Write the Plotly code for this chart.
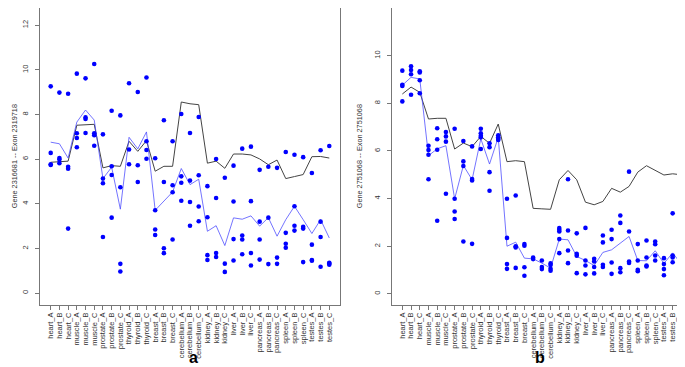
import plotly.graph_objects as go

categories = ["heart_A", "heart_B", "heart_C", "muscle_A", "muscle_B", "muscle_C",
              "prostate_A", "prostate_B", "prostate_C", "thyroid_A", "thyroid_B", "thyroid_C",
              "breast_A", "breast_B", "breast_C", "cerebellum_A", "cerebellum_B", "cerebellum_C",
              "kidney_A", "kidney_B", "kidney_C", "liver_A", "liver_B", "liver_C",
              "pancreas_A", "pancreas_B", "pancreas_C", "spleen_A", "spleen_B", "spleen_C",
              "testes_A", "testes_B", "testes_C"]

# Panel a: Gene 2316681 -- Exon 2319718
a_points = [
    [9.26, 6.28, 5.77, 5.74], [8.98, 6.05, 5.98, 5.82], [8.93, 5.66, 5.57, 2.89],
    [9.83, 7.16, 6.95, 6.53], [9.62, 7.87, 7.80, 7.17], [10.26, 7.16, 7.07, 6.60],
    [7.11, 5.13, 4.92, 2.51], [8.17, 5.68, 5.29, 3.38], [7.96, 4.74, 1.31, 0.97],
    [9.40, 6.43, 5.77], [9.01, 5.73, 4.98], [9.66, 6.80, 6.41, 6.02],
    [6.04, 3.71, 2.85, 2.60], [7.74, 4.98, 2.01, 1.79], [6.80, 4.83, 4.52, 2.40],
    [8.02, 5.23, 4.94, 4.14], [7.17, 5.04, 4.08, 3.02], [7.89, 5.28, 3.88, 3.22],
    [4.79, 3.40, 1.70, 1.48], [6.01, 4.26, 1.80, 1.62], [5.17, 1.32, 0.95],
    [5.71, 4.10, 2.42, 1.46], [6.47, 2.58, 2.40, 1.74], [6.56, 4.12, 1.80, 1.24],
    [5.52, 3.20, 2.40, 1.50], [5.66, 3.38, 1.30], [5.61, 1.59, 1.31],
    [6.32, 2.70, 2.21, 2.03], [6.20, 3.89, 3.02, 2.80], [6.09, 2.97, 2.89, 1.39],
    [5.38, 2.17, 1.48, 1.45], [6.40, 3.20, 2.51, 1.18], [6.59, 1.36, 1.33, 1.27],
]
a_gene = [5.86, 5.87, 5.91, 7.52, 7.53, 7.56, 5.61, 5.71, 5.68, 6.80, 6.35, 6.83,
          5.46, 5.68, 5.68, 8.56, 8.48, 8.44, 5.82, 5.91, 5.59, 6.23, 6.23, 6.19,
          6.01, 5.75, 5.96, 5.13, 5.22, 5.31, 6.11, 6.12, 6.05]
a_exon = [6.76, 6.69, 6.05, 7.66, 8.20, 7.75, 5.13, 5.64, 3.76, 6.98, 6.46, 7.22,
          3.71, 4.14, 4.53, 5.58, 4.86, 5.10, 2.77, 3.02, 2.13, 3.37, 3.31, 3.46,
          3.00, 3.38, 2.55, 3.29, 3.89, 3.29, 2.67, 3.29, 2.47]

# Panel b: Gene 2751068 -- Exon 2751068
b_points = [
    [9.37, 8.78, 8.73, 8.08], [9.55, 9.40, 9.22, 8.36], [9.34, 9.29, 8.97, 8.42],
    [6.22, 6.04, 5.84, 4.81], [6.95, 6.49, 6.05, 3.07], [6.79, 6.61, 6.39, 4.20],
    [6.93, 3.99, 3.46, 3.14], [6.42, 5.56, 5.37, 2.20], [6.19, 4.82, 4.76, 2.10],
    [6.93, 6.74, 6.64, 6.57, 6.08], [6.32, 6.16, 5.11, 4.33], [6.66, 6.57, 6.51, 6.46],
    [3.99, 2.35, 1.25, 1.05], [4.13, 2.00, 1.95, 1.09], [2.09, 2.02, 1.12, 0.76],
    [1.53, 1.46], [1.40, 1.13, 1.04], [1.28, 1.21, 1.05, 0.97],
    [2.76, 2.69, 2.62, 2.30, 1.71], [4.81, 2.66, 1.82, 1.29], [2.54, 1.68, 1.60, 0.87],
    [2.77, 1.40, 1.19, 0.82], [1.47, 1.36, 1.13, 0.86], [2.45, 2.16, 1.22, 1.13],
    [2.69, 2.30, 1.32, 0.84], [3.29, 2.98, 1.08, 0.91], [5.13, 2.62, 1.36, 1.30],
    [2.09, 1.40, 1.01, 0.95], [2.24, 1.53, 1.19, 1.15], [2.20, 2.08, 1.61, 1.40],
    [1.50, 1.25, 1.04, 0.78], [3.38, 1.61, 1.53, 1.33], [1.49, 1.36, 1.13, 0.95],
]
b_gene = [8.39, 8.68, 8.46, 7.34, 7.37, 7.37, 6.08, 6.33, 6.18, 6.61, 6.32, 7.13,
          5.55, 5.59, 5.55, 3.59, 3.57, 3.55, 4.79, 5.18, 4.79, 3.85, 3.74, 3.88,
          4.43, 4.27, 4.51, 5.11, 5.38, 5.18, 4.99, 5.04, 5.00]
b_exon = [8.76, 9.09, 9.02, 5.80, 6.09, 6.22, 3.99, 5.39, 4.79, 6.51, 5.45, 6.57,
          2.00, 2.17, 1.50, 1.47, 1.29, 1.08, 2.30, 2.27, 1.57, 1.40, 1.19, 1.74,
          1.85, 2.13, 2.41, 1.40, 1.39, 1.81, 1.28, 1.72, 1.25]

a_title = "Gene 2316681 -- Exon 2319718"
b_title = "Gene 2751068 -- Exon 2751068"
a_yticks = [0, 2, 4, 6, 8, 10, 12]
b_yticks = [0, 2, 4, 6, 8, 10]

W, H = 685, 367
FONT = "Liberation Sans, Arial, sans-serif"
POINT_BLUE = "#0000FF"
EXON_BLUE = "rgba(70,70,255,0.75)"
GENE_GRAY = "#444444"
AXIS_GRAY = "#777777"
TEXT_GRAY = "#333333"

fig = go.Figure()


def flatten(points):
    xs, ys = [], []
    for cat, vals in zip(categories, points):
        for v in vals:
            xs.append(cat)
            ys.append(v)
    return xs, ys


for pts, gene, exon, xa, ya in [(a_points, a_gene, a_exon, "x", "y"),
                                (b_points, b_gene, b_exon, "x2", "y2")]:
    fig.add_trace(go.Scatter(x=categories, y=gene, mode="lines", xaxis=xa, yaxis=ya,
                             line=dict(color=GENE_GRAY, width=1), showlegend=False))
    fig.add_trace(go.Scatter(x=categories, y=exon, mode="lines", xaxis=xa, yaxis=ya,
                             line=dict(color=EXON_BLUE, width=1), showlegend=False))
    px, py = flatten(pts)
    fig.add_trace(go.Scatter(x=px, y=py, mode="markers", xaxis=xa, yaxis=ya,
                             marker=dict(color=POINT_BLUE, size=4.6, line=dict(width=0)),
                             showlegend=False))

y_bottom = (H - 296.5) / H

common_x = dict(type="category", categoryorder="array", categoryarray=categories,
                tickmode="array", tickvals=categories, ticktext=categories,
                tickangle=-90, tickfont=dict(family=FONT, size=7.5, color=TEXT_GRAY),
                ticks="outside", ticklen=4, tickcolor=AXIS_GRAY, showgrid=False,
                showline=True, linecolor=AXIS_GRAY, linewidth=1, mirror=True,
                zeroline=False, fixedrange=True)
common_y = dict(tickangle=-90, tickfont=dict(family=FONT, size=7.5, color=TEXT_GRAY),
                ticks="outside", ticklen=4, tickcolor=AXIS_GRAY, showgrid=False,
                ticklabelstandoff=4,
                showline=True, linecolor=AXIS_GRAY, linewidth=1, mirror=True,
                zeroline=False, domain=[y_bottom, 1.0], fixedrange=True)

fig.update_layout(
    width=W, height=H,
    margin=dict(l=0, r=0, t=0, b=0),
    paper_bgcolor="white", plot_bgcolor="white",
    font=dict(family=FONT),
    xaxis=dict(common_x, domain=[32 / W, 332 / W], range=[-1.23, 33.23], anchor="y"),
    yaxis=dict(common_y, range=[-0.51, 12.77], tickvals=a_yticks, anchor="x"),
    xaxis2=dict(common_x, domain=[384.3 / W, 682.7 / W], range=[-1.15, 33.07], anchor="y2"),
    yaxis2=dict(common_y, range=[-0.446, 12.0], tickvals=b_yticks, anchor="x2"),
    annotations=[
        dict(text=a_title, x=7.3 / W, y=(H - 148) / H, xref="paper", yref="paper",
             textangle=-90, showarrow=False, font=dict(family=FONT, size=7.3, color=TEXT_GRAY),
             xanchor="center", yanchor="middle"),
        dict(text=b_title, x=352.3 / W, y=(H - 148) / H, xref="paper", yref="paper",
             textangle=-90, showarrow=False, font=dict(family=FONT, size=7.3, color=TEXT_GRAY),
             xanchor="center", yanchor="middle"),
        dict(text="<b>a</b>", x=185 / W, y=(H - 349) / H, xref="paper", yref="paper",
             showarrow=False, font=dict(family=FONT, size=16, color="black"),
             xanchor="center", yanchor="middle"),
        dict(text="<b>b</b>", x=532 / W, y=(H - 349) / H, xref="paper", yref="paper",
             showarrow=False, font=dict(family=FONT, size=16, color="black"),
             xanchor="center", yanchor="middle"),
    ],
)

fig.write_html("out.html")
